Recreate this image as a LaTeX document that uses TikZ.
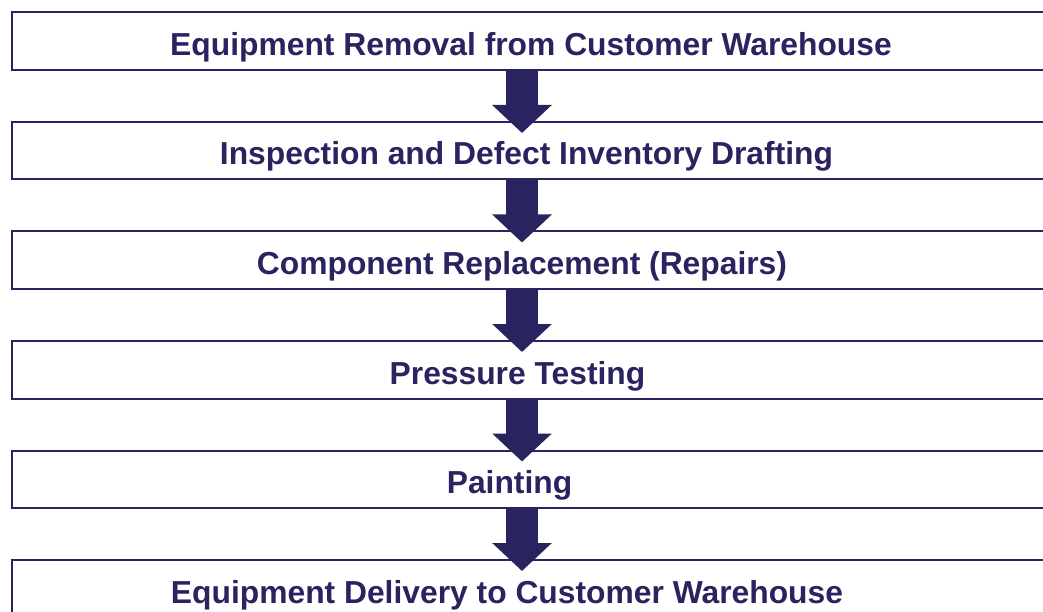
\documentclass[tikz,border=0pt]{standalone}
\usepackage{fontspec}
\setmainfont{Liberation Sans}
\usetikzlibrary{arrows.meta}
\definecolor{navy}{RGB}{41,36,96}
\begin{document}
\begin{tikzpicture}[x=1pt,y=-1pt,
  stepbox/.style={draw=navy, line width=2pt, fill=white, rectangle, inner sep=0pt,
    minimum width=1049.5pt, minimum height=57.5pt, anchor=north west},
  steptext/.style={text=navy, font=\fontsize{31.8}{36}\selectfont\bfseries, anchor=base, inner sep=0pt},
  flow/.style={draw=navy, line width=32pt, -{Triangle[width=58pt,length=28pt]}}]
\useasboundingbox (0,0) rectangle (1043,612);
\clip (0,0) rectangle (1043,612);
% process steps
\node[stepbox] (b1) at (10.5,11.5) {};
\node[stepbox] (b2) at (10.5,121) {};
\node[stepbox] (b3) at (10.5,230.5) {};
\node[stepbox] (b4) at (10.5,340) {};
\node[stepbox] (b5) at (10.5,449.5) {};
\node[stepbox] (b6) at (10.5,559) {};
\node[steptext] (t1) at (531,55.5) {Equipment Removal from Customer Warehouse};
\node[steptext] (t2) at (526.5,165) {Inspection and Defect Inventory Drafting};
\node[steptext] (t3) at (522,274.5) {Component Replacement (Repairs)};
\node[steptext] (t4) at (517.5,384) {Pressure Testing};
\node[steptext] (t5) at (509.5,493.5) {Painting};
\node[steptext] (t6) at (507,603) {Equipment Delivery to Customer Warehouse};
% arrows between steps
\coordinate (ax) at (522,0);
\draw[flow] (b1.south -| ax) -- ([yshift=-12pt]b2.north -| ax);
\draw[flow] (b2.south -| ax) -- ([yshift=-12pt]b3.north -| ax);
\draw[flow] (b3.south -| ax) -- ([yshift=-12pt]b4.north -| ax);
\draw[flow] (b4.south -| ax) -- ([yshift=-12pt]b5.north -| ax);
\draw[flow] (b5.south -| ax) -- ([yshift=-12pt]b6.north -| ax);
\end{tikzpicture}
\end{document}
